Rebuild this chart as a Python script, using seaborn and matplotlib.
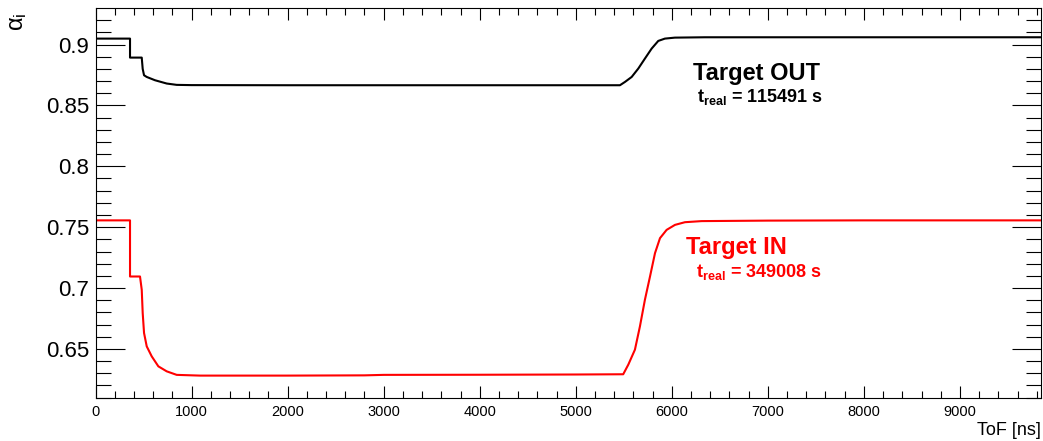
import matplotlib
matplotlib.use("Agg")
import matplotlib.pyplot as plt
from matplotlib.ticker import MultipleLocator, FixedLocator, FixedFormatter
import seaborn as sns

# ---- data: alpha_i versus time of flight ----
tof_out = [0, 359, 359, 481, 491, 505, 533, 619, 741, 845, 1000, 2000, 3000,
           4000, 5000, 5460, 5512, 5582, 5651, 5720, 5790, 5859, 5928, 6032,
           6345, 7000, 8000, 9843]
alpha_out = [0.9049, 0.9049, 0.8893, 0.8893, 0.8800, 0.8748, 0.8734, 0.8707,
             0.8680, 0.8669, 0.8667, 0.8666, 0.8666, 0.8666, 0.8666, 0.8666,
             0.8693, 0.8734, 0.8803, 0.8885, 0.8967, 0.9030, 0.9049, 0.9057,
             0.9060, 0.9060, 0.9060, 0.9060]

tof_in = [0, 359, 359, 463, 481, 491, 505, 533, 585, 654, 741, 845, 1088,
          2000, 2800, 3000, 4000, 5000, 5494, 5547, 5616, 5668, 5720, 5773,
          5825, 5877, 5946, 6033, 6137, 6311, 7000, 8000, 9843]
alpha_in = [0.7556, 0.7556, 0.7095, 0.7095, 0.6986, 0.6795, 0.6631, 0.6521,
            0.6439, 0.6357, 0.6316, 0.6287, 0.6281, 0.6281, 0.6283, 0.6287,
            0.6288, 0.6290, 0.6292, 0.6371, 0.6494, 0.6685, 0.6904, 0.7095,
            0.7287, 0.7410, 0.7478, 0.7519, 0.7541, 0.7550, 0.7554, 0.7556,
            0.7556]

label_out = "Target OUT"
label_in = "Target IN"
treal_out = 115491
treal_in = 349008

x_ticks = [0, 1000, 2000, 3000, 4000, 5000, 6000, 7000, 8000, 9000]
x_ticklabels = ["0", "1000", "2000", "3000", "4000", "5000", "6000", "7000",
                "8000", "9000"]
y_ticks = [0.65, 0.7, 0.75, 0.8, 0.85, 0.9]
y_ticklabels = ["0.65", "0.7", "0.75", "0.8", "0.85", "0.9"]

# ---- style ----
sns.set_theme(style="white")
plt.rcParams["font.family"] = ["Liberation Sans", "DejaVu Sans"]
plt.rcParams["mathtext.fontset"] = "custom"
plt.rcParams["mathtext.rm"] = "Liberation Sans"
plt.rcParams["mathtext.it"] = "Liberation Sans"
plt.rcParams["mathtext.bf"] = "Liberation Sans:bold"
plt.rcParams["text.color"] = "black"
plt.rcParams["axes.labelcolor"] = "black"
plt.rcParams["xtick.color"] = "black"
plt.rcParams["ytick.color"] = "black"

fig = plt.figure(figsize=(10.43, 4.41), dpi=100)
ax = fig.add_axes([0.0916, 0.0964, 0.9064, 0.8848])

sns.lineplot(x=tof_out, y=alpha_out, sort=False, estimator=None, ax=ax,
             color="black", lw=1.5)
sns.lineplot(x=tof_in, y=alpha_in, sort=False, estimator=None, ax=ax,
             color="#ff0000", lw=1.5)

ax.set_xlim(0, 9843)
ax.set_ylim(0.6093, 0.9298)

for s in ax.spines.values():
    s.set_color("black")
    s.set_linewidth(0.8)

ax.xaxis.set_major_locator(FixedLocator(x_ticks))
ax.xaxis.set_major_formatter(FixedFormatter(x_ticklabels))
ax.yaxis.set_major_locator(FixedLocator(y_ticks))
ax.yaxis.set_major_formatter(FixedFormatter(y_ticklabels))
ax.xaxis.set_minor_locator(MultipleLocator(200))
ax.yaxis.set_minor_locator(MultipleLocator(0.01))

ax.tick_params(axis="x", which="both", direction="in", top=True, bottom=True,
               color="black", labelcolor="black", width=0.8, labelsize=10.5,
               pad=5)
ax.tick_params(axis="x", which="major", length=8.6)
ax.tick_params(axis="x", which="minor", length=5)
ax.tick_params(axis="y", which="both", direction="in", left=True, right=True,
               color="black", labelcolor="black", width=0.8, labelsize=16,
               pad=4.5)
ax.tick_params(axis="y", which="major", length=21)
ax.tick_params(axis="y", which="minor", length=10.8)

ax.set_xlabel("ToF [ns]", fontsize=13, loc="right", color="black")
ax.xaxis.set_label_coords(1.0, -0.0935)
ax.xaxis.label.set_va("baseline")
ax.set_ylabel(r"$\mathrm{\alpha_{i}}$", fontsize=17, loc="top", color="black")
ax.yaxis.set_label_coords(-0.094, 0.99)
ax.yaxis.label.set_va("top")

# ---- annotations ----
ax.text(0.632, 0.816, label_out, transform=ax.transAxes, fontsize=17,
        fontweight="bold", color="black", ha="left", va="baseline")
ax.text(0.636, 0.761, r"$\mathbf{t}_{\mathbf{real}}$" + f" = {treal_out} s",
        transform=ax.transAxes, fontsize=13, fontweight="bold",
        color="black", ha="left", va="baseline")
ax.text(0.6245, 0.370, label_in, transform=ax.transAxes, fontsize=17,
        fontweight="bold", color="#ff0000", ha="left", va="baseline")
ax.text(0.635, 0.3106, r"$\mathbf{t}_{\mathbf{real}}$" + f" = {treal_in} s",
        transform=ax.transAxes, fontsize=13, fontweight="bold",
        color="#ff0000", ha="left", va="baseline")

fig.savefig("out.png", dpi=100)
